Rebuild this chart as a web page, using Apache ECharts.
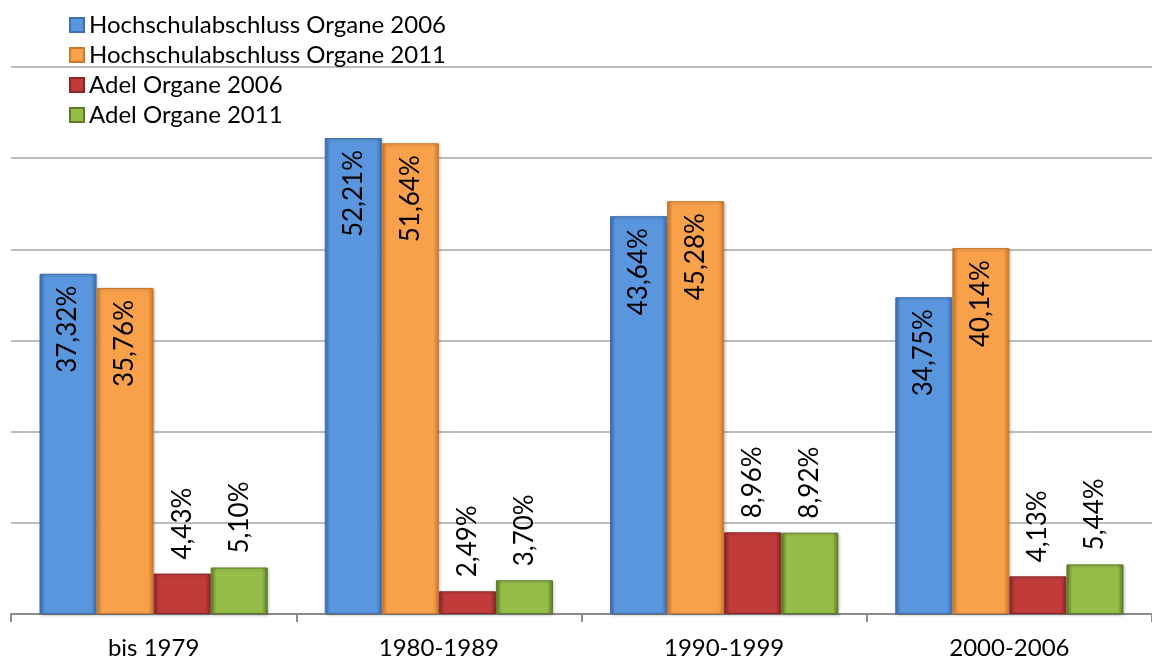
<!DOCTYPE html>
<html>
<head>
<meta charset="utf-8">
<script src="https://cdn.jsdelivr.net/npm/echarts@6/dist/echarts.min.js"></script>
<style>
  html, body { margin: 0; padding: 0; background: #fff; }
  #main { width: 1152px; height: 664px; }
</style>
</head>
<body>
<div id="main"></div>
<script>
  // Kategorien und Werte (Prozent)
  var categories = ['bis 1979', '1980-1989', '1990-1999', '2000-2006'];
  var seriesNames = ['Hochschulabschluss Organe 2006', 'Hochschulabschluss Organe 2011', 'Adel Organe 2006', 'Adel Organe 2011'];
  var hochschule2006 = [37.32, 52.21, 43.64, 34.75];
  var hochschule2011 = [35.76, 51.64, 45.28, 40.14];
  var adel2006 = [4.43, 2.49, 8.96, 4.13];
  var adel2011 = [5.10, 3.70, 8.92, 5.44];

  var fontName = 'Lato';
  var colors = [
    { fill: '#5A96DE', edge: '#3F70AE' },
    { fill: '#F9A04B', edge: '#C97A2C' },
    { fill: '#C23B3B', edge: '#8A2626' },
    { fill: '#95BD48', edge: '#5E7B26' }
  ];

  function fmt(v) {
    return v.toFixed(2).replace('.', ',') + '%';
  }

  // Beschriftung: grosse Balken innen oben, kleine ueber dem Balken
  function buildData(values) {
    return values.map(function (v) {
      var big = v > 20;
      return {
        value: v,
        label: {
          show: true,
          rotate: 90,
          position: big ? 'insideTop' : 'top',
          align: big ? 'right' : 'left',
          verticalAlign: 'middle',
          distance: big ? 12 : 14,
          formatter: function (p) { return fmt(p.value); },
          fontFamily: fontName,
          fontSize: 26,
          color: '#000'
        }
      };
    });
  }

  var allValues = [hochschule2006, hochschule2011, adel2006, adel2011];

  var series = allValues.map(function (vals, i) {
    var c = colors[i];
    return {
      name: seriesNames[i],
      type: 'bar',
      barGap: '0%',
      barCategoryGap: '20%',
      data: buildData(vals),
      itemStyle: {
        color: new echarts.graphic.LinearGradient(0, 0, 1, 0, [
          { offset: 0, color: c.edge },
          { offset: 0.1, color: c.fill },
          { offset: 0.9, color: c.fill },
          { offset: 1, color: c.edge }
        ]),
        borderColor: c.edge,
        borderWidth: 1,
        shadowColor: 'rgba(0,0,0,0.25)',
        shadowBlur: 3,
        shadowOffsetX: 1,
        shadowOffsetY: 1
      }
    };
  });

  var myChart = echarts.init(document.getElementById('main'));

  var option = {
    backgroundColor: '#ffffff',
    animation: false,
    color: colors.map(function (c) { return c.fill; }),
    legend: {
      orient: 'vertical',
      left: 64,
      top: 8,
      itemWidth: 14,
      itemHeight: 14,
      itemGap: 6,
      icon: 'rect',
      textStyle: { fontFamily: fontName, fontSize: 24, lineHeight: 24, color: '#000' },
      data: seriesNames
    },
    grid: {
      left: 11,
      right: 0,
      top: 67,
      bottom: 50
    },
    xAxis: {
      type: 'category',
      data: categories,
      axisLine: { lineStyle: { color: '#8c8c8c', width: 2 } },
      axisTick: { show: true, length: 8, lineStyle: { color: '#8c8c8c', width: 2 } },
      axisLabel: { fontFamily: fontName, fontSize: 24, color: '#000', margin: 22 }
    },
    yAxis: {
      type: 'value',
      min: 0,
      max: 60,
      interval: 10,
      axisLine: { show: false },
      axisTick: { show: false },
      axisLabel: { show: false },
      splitLine: { lineStyle: { color: '#bdbdbd', width: 2 } }
    },
    series: series
  };

  myChart.setOption(option);
</script>
</body>
</html>
